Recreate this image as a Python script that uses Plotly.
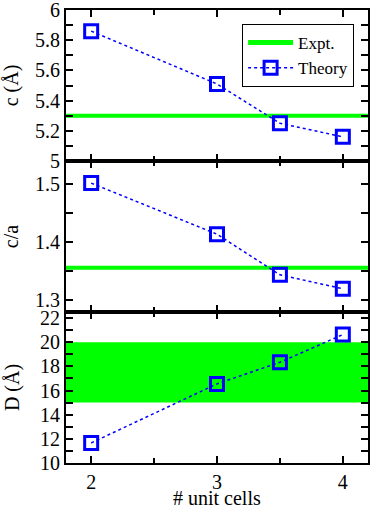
import plotly.graph_objects as go

# ---- data ----
cells = [2, 3, 3.5, 4]
c_theory = [5.86, 5.51, 5.25, 5.16]
ca_theory = [1.502, 1.414, 1.344, 1.320]
d_theory = [11.66, 16.55, 18.34, 20.63]
c_expt = 5.30
ca_expt = 1.356
d_expt_low = 15
d_expt_high = 20
x_tick_vals = [2, 3, 4]
x_minor_vals = [2.5, 3.5]

BLUE = "#0000ff"
GREEN = "#00ff00"
FONT = "Liberation Serif"

X_RANGE = [1.8, 4.2]
panels = [
    dict(y=c_theory, range=[5, 6], tick0=5, dtick=0.2, minor=0.1, dom=[2/3, 1], title="c (Å)"),
    dict(y=ca_theory, range=[1.28, 1.54], tick0=1.3, dtick=0.1, minor=0.05, dom=[1/3, 2/3], title="c/a"),
    dict(y=d_theory, range=[10, 22.5], tick0=10, dtick=2, minor=1, dom=[0, 1/3], title="D (Å)"),
]

fig = go.Figure()
theory_style = dict(
    mode="lines+markers",
    line=dict(color=BLUE, width=1.5, dash="dot"),
    marker=dict(symbol="square-open", size=13, color=BLUE, line=dict(width=3, color=BLUE)),
)
fig.add_trace(go.Scatter(x=[None], y=[None], mode="lines", line=dict(color=GREEN, width=5),
                         name="Expt.", xaxis="x", yaxis="y"))

label_axis = dict(showline=True, linewidth=2, linecolor="black", mirror=True,
                  ticks="", showgrid=False, zeroline=False, automargin=False,
                  ticklabeloverflow="allow",
                  tickfont=dict(family=FONT, size=20, color="black"))
tick_axis = dict(showline=False, showgrid=False, zeroline=False, showticklabels=False,
                 ticks="inside", tickwidth=2, tickcolor="black")

layout_axes = {}
n = 3  # next free axis number after main axes
for i, p in enumerate(panels, start=1):
    xs = "" if i == 1 else str(i)
    xm, ym = "x" + xs, "y" + xs
    # main axes: line + labels
    layout_axes["xaxis" + xs] = dict(label_axis, range=X_RANGE, tickmode="array",
                                     tickvals=x_tick_vals, showticklabels=(i == 3),
                                     anchor=ym, domain=[0, 1])
    layout_axes["yaxis" + xs] = dict(label_axis, range=p["range"], tick0=p["tick0"],
                                     dtick=p["dtick"], anchor=xm, domain=p["dom"],
                                     title=dict(text=p["title"], font=dict(family=FONT, size=20)))
    fig.add_trace(go.Scatter(x=cells, y=p["y"], name="Theory", showlegend=(i == 1),
                             xaxis=xm, yaxis=ym, **theory_style))
    # tick-only overlay axes
    y_ids = []
    for side in ["left", "right"]:
        n += 1
        layout_axes["yaxis%d" % n] = dict(tick_axis, overlaying=ym, anchor=xm, side=side,
                                          range=p["range"], tick0=p["tick0"], dtick=p["minor"],
                                          ticklen=7)
        y_ids.append("y%d" % n)
    k = 0
    for side in ["bottom", "top"]:
        for vals, ln in [(x_tick_vals, 7), (x_minor_vals, 5)]:
            n += 1
            layout_axes["xaxis%d" % n] = dict(tick_axis, overlaying=xm, anchor=ym, side=side,
                                              range=X_RANGE, tickmode="array", tickvals=vals,
                                              ticklen=ln)
            fig.add_trace(go.Scatter(x=cells, y=p["y"], mode="markers", marker=dict(opacity=0),
                                     hoverinfo="skip", showlegend=False,
                                     xaxis="x%d" % n, yaxis=y_ids[k % 2]))
            k += 1

fig.update_layout(
    width=374, height=510,
    margin=dict(l=66, r=6, t=10, b=47),
    paper_bgcolor="white", plot_bgcolor="white",
    font=dict(family=FONT, size=20, color="black"),
    legend=dict(x=0.954, y=0.969, xanchor="right", yanchor="top", bordercolor="black",
                borderwidth=1, bgcolor="white", font=dict(family=FONT, size=17),
                tracegroupgap=0, itemwidth=45),
    annotations=[dict(text="# unit cells", xref="paper", yref="paper", x=0.5, y=-0.078,
                      xanchor="center", yanchor="middle", showarrow=False,
                      font=dict(family=FONT, size=20))],
    shapes=[
        dict(type="line", xref="x domain", yref="y", x0=0, x1=1, y0=c_expt, y1=c_expt,
             line=dict(color=GREEN, width=4), layer="below"),
        dict(type="line", xref="x2 domain", yref="y2", x0=0, x1=1, y0=ca_expt, y1=ca_expt,
             line=dict(color=GREEN, width=4), layer="below"),
        dict(type="rect", xref="x3 domain", yref="y3", x0=0, x1=1, y0=d_expt_low, y1=d_expt_high,
             fillcolor=GREEN, line=dict(width=0), layer="below"),
    ],
    **layout_axes,
)

fig.write_html("out.html", config={"displayModeBar": False},
               post_script="document.body.style.margin='0';")
